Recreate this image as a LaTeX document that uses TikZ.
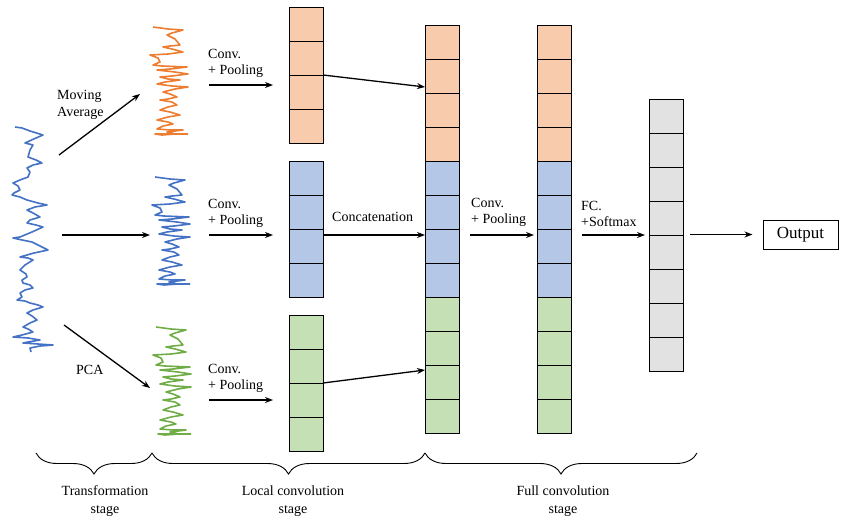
\documentclass[tikz,border=0pt]{standalone}
\usepackage{fontspec}
\setmainfont{Liberation Serif}
\usetikzlibrary{arrows.meta,decorations.pathreplacing,calc}
\definecolor{cOr}{HTML}{ED7D31}
\definecolor{cBl}{HTML}{4472C4}
\definecolor{cGr}{HTML}{70AD47}
\definecolor{fOr}{HTML}{F8CBAD}
\definecolor{fBl}{HTML}{B4C7E7}
\definecolor{fGr}{HTML}{C5E0B4}
\definecolor{fGy}{HTML}{E2E2E2}
\tikzset{
  cell/.style={draw=black, line width=0.9pt, minimum width=34pt, minimum height=34pt, inner sep=0pt, outer sep=0pt},
  arr/.style={line width=1.3pt, -{Stealth[length=8pt,width=6pt]}},
  lbl/.style={font=\fontsize{14}{16.5}\selectfont, align=left, inner sep=0pt},
  stagelbl/.style={font=\fontsize{14}{18}\selectfont, align=center, inner sep=0pt},
  brc/.style={decorate, decoration={brace, mirror, amplitude=21pt}, line width=0.9pt},
  wavestyle/.style={line width=1.6pt, line join=round},
  smallwave/.pic={\draw[pic actions, wavestyle] plot coordinates {(3,5) (18,7) (33,8) (22,11) (17,13) (25,17) (30,23) (20,24) (13,25) (22,27) (33,30) (18,32) (0,33) (8,36) (10,40) (3,43) (12,44) (37,45) (20,47) (7,48) (25,50) (38,52) (22,54) (10,55) (18,57) (30,58) (15,60) (7,62) (22,64) (38,65) (25,67) (13,70) (20,72) (27,75) (18,77) (10,78) (22,80) (27,83) (18,85) (10,88) (20,90) (30,93) (18,95) (7,98) (18,100) (23,102) (13,104) (7,107) (20,108) (33,108) (17,110) (25,112) (12,113) (5,112) (38,112)};}
}
\begin{document}
\begin{tikzpicture}[x=1pt,y=-1pt]
\useasboundingbox (0,0) rectangle (842,520);
% main signal
\draw[cBl, wavestyle] plot coordinates {(15,127) (22,128) (30,131) (43,135) (36,138) (25,143) (33,145) (30,150) (28,157) (36,160) (42,163) (33,165) (27,168) (30,172) (28,177) (20,180) (13,183) (18,186) (20,190) (14,193) (12,195) (20,197) (27,200) (38,203) (47,205) (35,207) (27,210) (33,213) (40,217) (30,220) (27,223) (36,225) (43,227) (32,232) (20,237) (13,238) (22,240) (32,242) (40,246) (48,250) (34,253) (20,257) (28,258) (33,260) (25,265) (20,270) (26,274) (27,277) (22,280) (23,283) (30,285) (33,288) (25,290) (20,293) (22,297) (17,300) (25,301) (30,303) (38,305) (43,307) (33,310) (27,313) (32,316) (37,320) (30,323) (23,327) (28,329) (33,332) (22,335) (13,337) (28,338) (40,340) (28,342) (23,343) (38,344) (53,345) (40,346) (30,348) (31,352)};
% small signals
\pic[draw=cOr] at (150,22) {smallwave};
\pic[draw=cBl] at (152,172) {smallwave};
\pic[draw=cGr] at (153,322) {smallwave};
% transformation arrows
\coordinate (s1) at (59,155); \coordinate (t1) at (140,94);
\coordinate (s2) at (62,235); \coordinate (t2) at (150,235);
\coordinate (s3) at (64,325); \coordinate (t3) at (150,388);
\draw[arr] (s1) -- (t1);
\draw[arr] (s2) -- (t2);
\draw[arr] (s3) -- (t3);
\node[lbl, anchor=west] (ma) at (57,105) {Moving\\Average};
\node[lbl, anchor=west] (pca) at (76,370) {PCA};
% local conv columns
\foreach \i in {1,...,4} {
  \node[cell, fill=fOr] (lo\i) at (306,{24+34*(\i-1)}) {};
  \node[cell, fill=fBl] (lb\i) at (306,{178+34*(\i-1)}) {};
  \node[cell, fill=fGr] (lg\i) at (306,{332+34*(\i-1)}) {};
}
% conv+pooling arrows
\foreach \y/\n in {85/a,235/b,400/c} {
  \coordinate (cp\n s) at (209,\y);
  \coordinate (cp\n e) at (273,\y);
  \draw[arr] (cp\n s) -- (cp\n e);
  \node[lbl, anchor=south west] (cpl\n) at (208,{\y-7}) {Conv.\\+ Pooling};
}
% full conv columns
\foreach \c/\x in {fa/442,fb/554} {
  \foreach \i in {1,...,4} \node[cell, fill=fOr] (\c\i) at (\x,{42+34*(\i-1)}) {};
  \foreach \i in {5,...,8} \node[cell, fill=fBl] (\c\i) at (\x,{42+34*(\i-1)}) {};
  \foreach \i in {9,...,12} \node[cell, fill=fGr] (\c\i) at (\x,{42+34*(\i-1)}) {};
}
% fc column
\foreach \i in {1,...,8} \node[cell, fill=fGy] (g\i) at (666,{116+34*(\i-1)}) {};
% concatenation arrows
\draw[arr] (lo2.south east) -- ($(fa2.west)+(0,11)$);
\draw[arr] ($(lb2.south east)+(0,6)$) -- ($(fa7.west)+(0,-11)$);
\draw[arr] (lg2.south east) -- ($(fa11.west)+(0,-12)$);
\node[lbl, anchor=west] (concat) at (332,217) {Concatenation};
% full conv arrows
\draw[arr] ($(fa7.north east)+(11,6)$) -- ($(fb7.north west)+(-3,6)$);
\node[lbl, anchor=south west] (cpm) at (471,227) {Conv.\\+ Pooling};
\draw[arr] ($(fb7.north east)+(11,6)$) -- ($(g4.south west)+(-4,0)$);
\node[lbl, anchor=south west] (fcl) at (581,227) {FC.\\+Softmax};
% output
\node[draw=black, line width=1pt, minimum width=75pt, minimum height=29pt, inner sep=0pt, font=\fontsize{17}{20}\selectfont] (out) at (800.5,234.5) {Output};
\draw[arr] ($(g4.south east)+(7,-0.5)$) -- ($(out.west)+(-10,0)$);
% braces
\coordinate (b0) at (36,453);
\coordinate (b1) at (152,453);
\coordinate (b2) at (425,453);
\coordinate (b3) at (697,453);
\draw[brc] (b0) -- (b1);
\draw[brc] (b1) -- (b2);
\draw[brc] (b2) -- (b3);
\node[stagelbl] (st1) at (105,501) {Transformation\\stage};
\node[stagelbl] (st2) at (293,501) {Local convolution\\stage};
\node[stagelbl] (st3) at (563,501) {Full convolution\\stage};
\end{tikzpicture}
\end{document}
